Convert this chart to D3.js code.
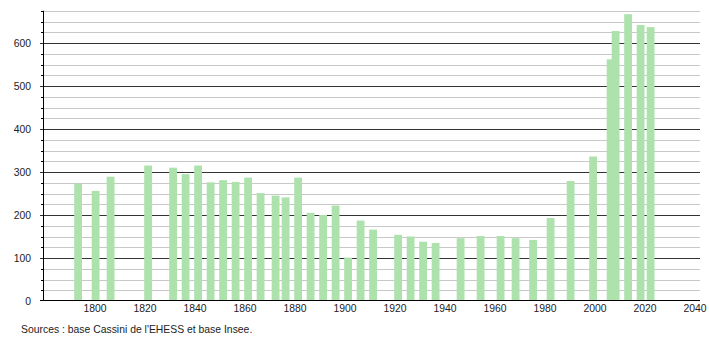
<!DOCTYPE html>
<html>
<head>
<meta charset="utf-8">
<script src="https://cdn.jsdelivr.net/npm/d3@7"></script>
<style>
  body { margin: 0; background: #fff; }
  text { font-family: "Liberation Sans", Arial, sans-serif; font-size: 10.4px; fill: #222; }
</style>
</head>
<body>
<div id="chart"></div>
<script>
const width = 710;
const height = 340;

// population data
const years = [1793, 1800, 1806, 1821, 1831, 1836, 1841, 1846, 1851, 1856, 1861, 1866,
  1872, 1876, 1881, 1886, 1891, 1896, 1901, 1906, 1911, 1921, 1926, 1931, 1936, 1946,
  1954, 1962, 1968, 1975, 1982, 1990, 1999, 2006, 2008, 2013, 2018, 2022];
const population = [273, 256, 289, 315, 310, 295, 315, 276, 281, 277, 287, 251,
  245, 241, 287, 205, 200, 222, 101, 187, 166, 154, 150, 138, 135, 146,
  151, 151, 146, 142, 193, 279, 336, 562, 628, 667, 642, 637];
const xTicks = [1800, 1820, 1840, 1860, 1880, 1900, 1920, 1940, 1960, 1980, 2000, 2020, 2040];
const yMajor = [0, 100, 200, 300, 400, 500, 600];
const yMinor = d3.range(25, 700, 25).filter(v => v % 100 !== 0);
const source = "Sources : base Cassini de l'EHESS et base Insee.";

const x = d3.scaleLinear().domain([1779.6, 2042]).range([44, 700]);
const y = d3.scaleLinear().domain([0, 675]).range([301, 10.75]);

const svg = d3.select("#chart").append("svg")
  .attr("width", width)
  .attr("height", height);

// grid
svg.append("g")
  .selectAll("line")
  .data(yMinor)
  .enter().append("line")
    .attr("x1", 44).attr("x2", 700)
    .attr("y1", d => Math.round(y(d)) + 0.5)
    .attr("y2", d => Math.round(y(d)) + 0.5)
    .attr("stroke", "#c8c8c8");

svg.append("g")
  .selectAll("line")
  .data(yMajor.slice(1))
  .enter().append("line")
    .attr("x1", 40).attr("x2", 700)
    .attr("y1", d => Math.round(y(d)) + 0.5)
    .attr("y2", d => Math.round(y(d)) + 0.5)
    .attr("stroke", "#333");

// bars
svg.append("g")
  .selectAll("rect")
  .data(years)
  .enter().append("rect")
    .attr("x", d => x(d) - 3.3)
    .attr("width", 7.8)
    .attr("y", (d, i) => y(population[i]))
    .attr("height", (d, i) => y(0) - y(population[i]))
    .attr("fill", "#ade2ad");

// y axis
const yAxis = svg.append("g");
yAxis.append("line")
  .attr("x1", 43.5).attr("x2", 43.5)
  .attr("y1", y(675)).attr("y2", y(0))
  .attr("stroke", "#000");
yAxis.selectAll(".minor")
  .data(yMinor)
  .enter().append("line")
    .attr("class", "minor")
    .attr("x1", 41).attr("x2", 44)
    .attr("y1", d => Math.round(y(d)) + 0.5)
    .attr("y2", d => Math.round(y(d)) + 0.5)
    .attr("stroke", "#000");
yAxis.selectAll("text")
  .data(yMajor)
  .enter().append("text")
    .attr("x", 31)
    .attr("y", d => y(d))
    .attr("dy", "0.35em")
    .attr("text-anchor", "end")
    .text(d => d);

// x axis
svg.append("line")
  .attr("x1", 40).attr("x2", 700)
  .attr("y1", 300.5).attr("y2", 300.5)
  .attr("stroke", "#000");
svg.append("g")
  .selectAll("text")
  .data(xTicks)
  .enter().append("text")
    .attr("x", d => x(d))
    .attr("y", 312)
    .attr("text-anchor", "middle")
    .text(d => d);

svg.append("text")
  .attr("x", 21)
  .attr("y", 333)
  .text(source);
</script>
</body>
</html>
